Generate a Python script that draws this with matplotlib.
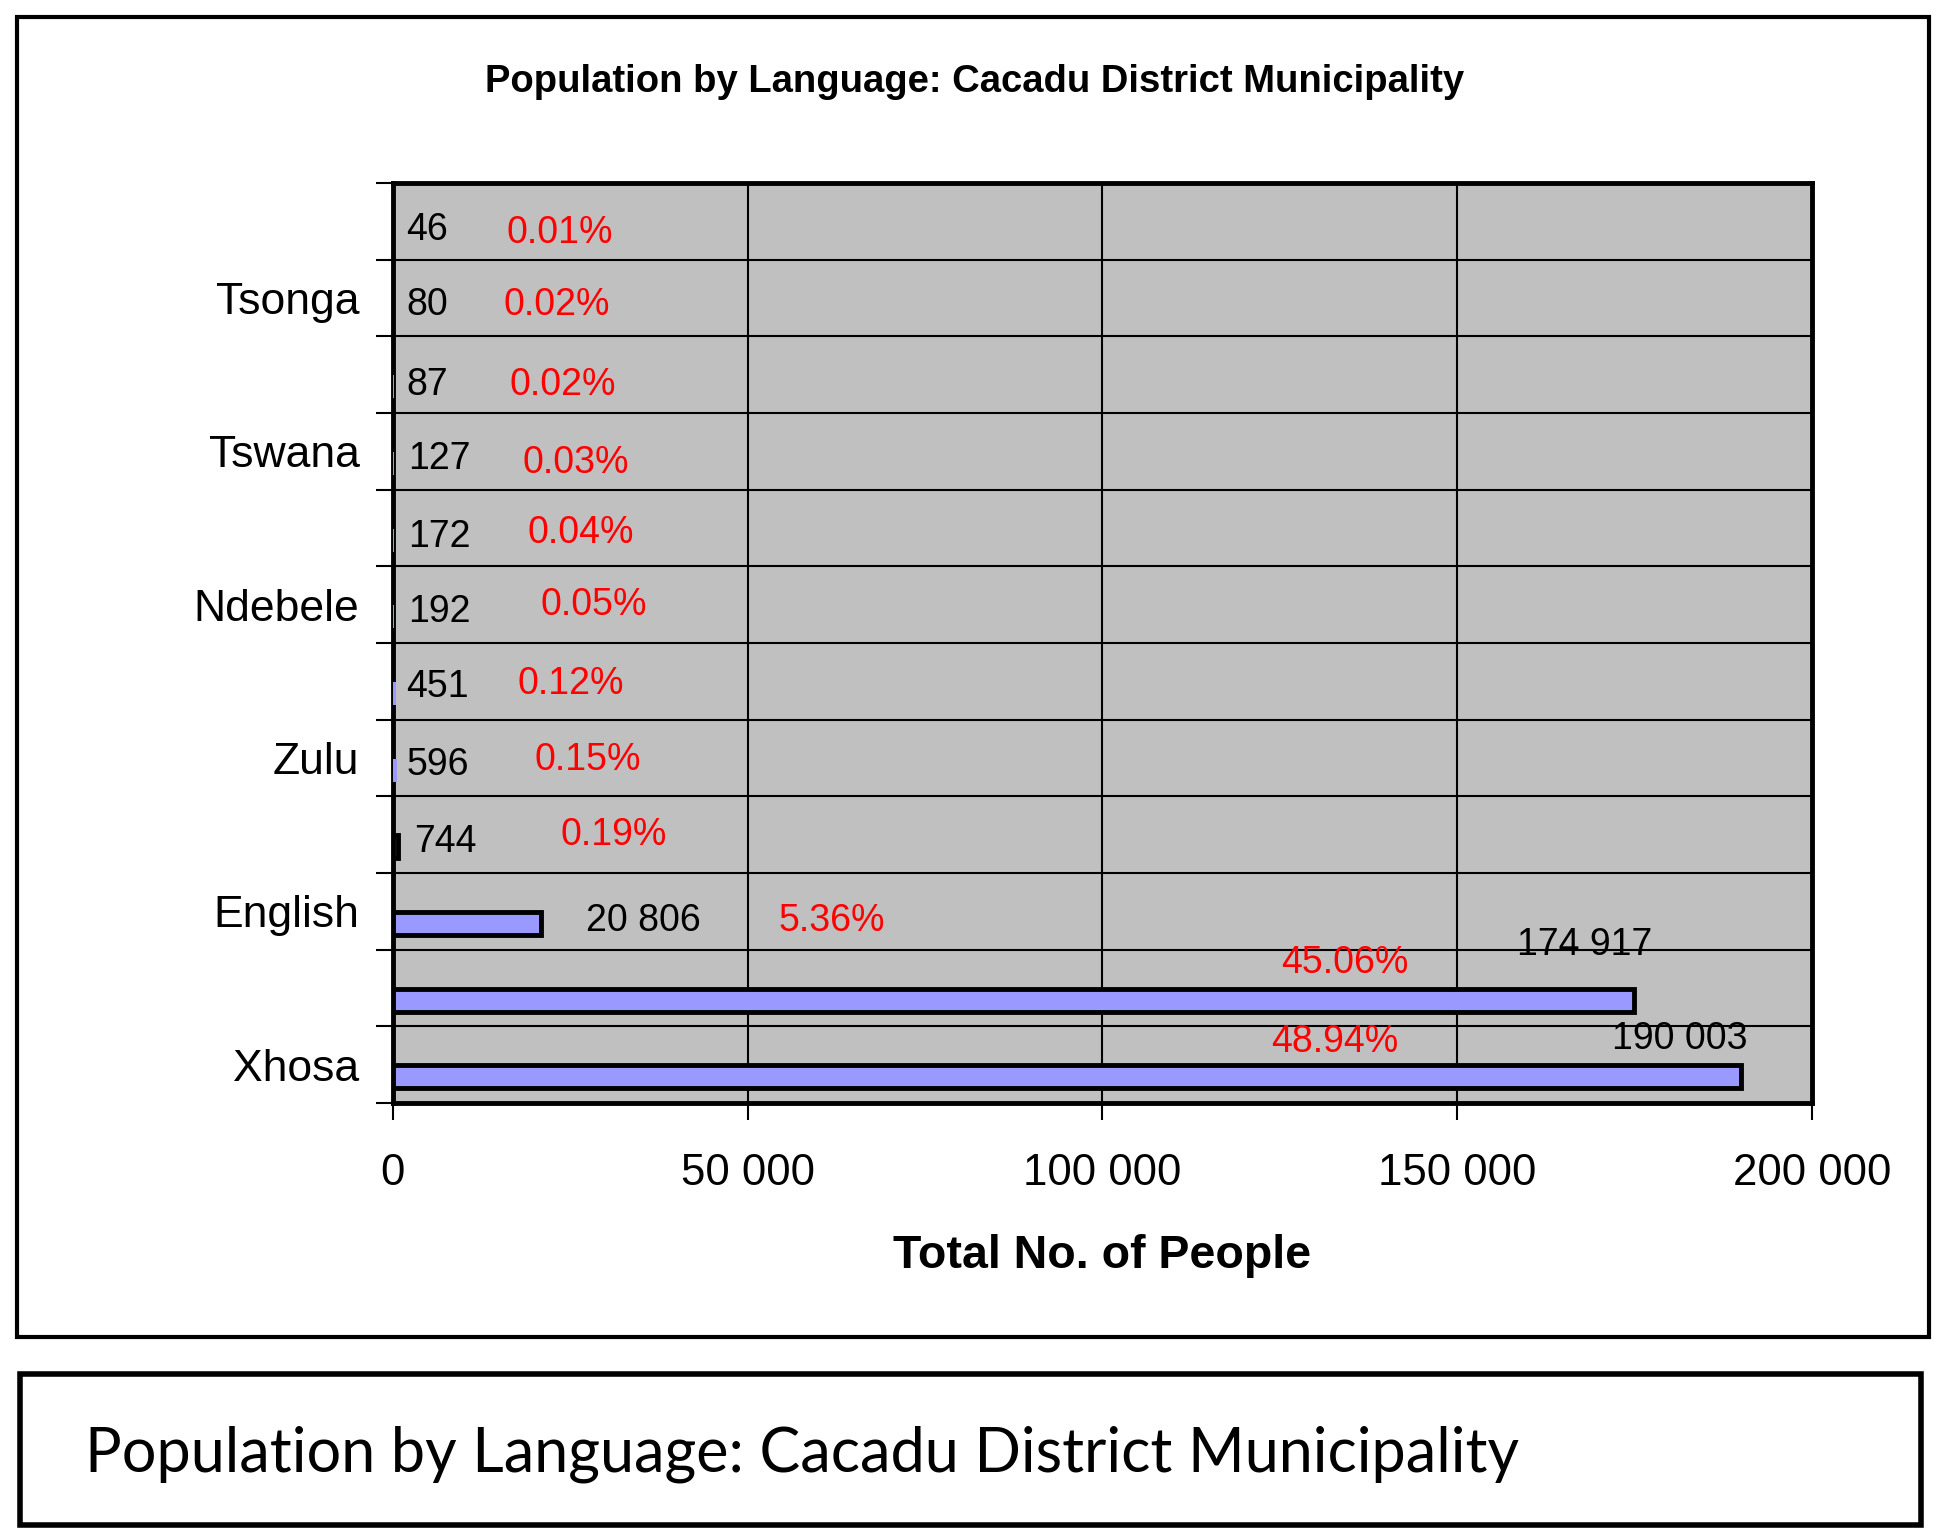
import matplotlib.pyplot as plt
import matplotlib.patches as mpatches
import numpy as np

# data, top to bottom as drawn (Xhosa at the bottom)
languages = ['', 'Tsonga', '', 'Tswana', '', 'Ndebele', '', 'Zulu', '', 'English', '', 'Xhosa']
people = [46, 80, 87, 127, 172, 192, 451, 596, 744, 20806, 174917, 190003]
percent = ['0.01%', '0.02%', '0.02%', '0.03%', '0.04%', '0.05%',
           '0.12%', '0.15%', '0.19%', '5.36%', '45.06%', '48.94%']
xticks = [0, 50000, 100000, 150000, 200000]
xtick_labels = ['0', '50 000', '100 000', '150 000', '200 000']

# hand-placed label positions (as in the original chart)
num_x = [1930, 1930, 1930, 2100, 2100, 2100, 1930, 1930, 2980, 27170, 158470, 171800]
num_dy = [-0.12, -0.09, -0.13, -0.10, -0.12, -0.10, -0.07, -0.09, -0.09, -0.12, 0.56, 0.34]
pct_x = [15950, 15600, 16480, 18230, 18930, 20860, 17530, 19980, 23670, 54340, 125160, 123760]
pct_dy = [-0.15, -0.09, -0.13, -0.15, -0.07, -0.01, -0.04, -0.02, 0.0, -0.12, 0.32, 0.29]

plt.rcParams['font.family'] = ['Liberation Sans', 'DejaVu Sans']

fig = plt.figure(figsize=(19.5, 15.32), dpi=100)
ax = fig.add_axes([0.2015, 0.2800, 0.7277, 0.6006])
ax.set_facecolor('#C0C0C0')

n = len(people)
ypos = np.arange(n)[::-1]  # first item at the top
# bars thinner than a pixel or two don't show in the original, so no outline for them
edges = ['black' if v > 700 else 'none' for v in people]
ax.barh(ypos - 0.16, people, height=0.30, color='#9999FF', edgecolor=edges,
        linewidth=3.5, zorder=3)

for i in range(n):
    ax.text(num_x[i], ypos[i] + num_dy[i], '{:,}'.format(people[i]).replace(',', ' '),
            fontsize=27, color='black', va='center', ha='left', zorder=4)
    ax.text(pct_x[i], ypos[i] + pct_dy[i], percent[i],
            fontsize=27, color='red', va='center', ha='left', zorder=4)

ax.set_xlim(0, 200000)
ax.set_ylim(-0.5, n - 0.5)
ax.set_xticks(xticks)
ax.set_xticklabels(xtick_labels, fontsize=31.5)
ax.tick_params(axis='x', length=12, width=1.5, pad=24)

# category names on every band, band edges as minor ticks with gridlines
ax.set_yticks(ypos)
ax.set_yticklabels(languages, fontsize=32)
ax.set_yticks(np.arange(n + 1) - 0.5, minor=True)
ax.tick_params(axis='y', which='major', length=0, pad=24)
ax.tick_params(axis='y', which='minor', length=12, width=1.5)
ax.grid(axis='y', which='minor', color='black', linewidth=1.5, zorder=1)
ax.grid(axis='x', which='major', color='black', linewidth=1.5, zorder=1)
for s in ax.spines.values():
    s.set_linewidth(3.5)

fig.text(0.5, 0.9467, 'Population by Language: Cacadu District Municipality',
         fontsize=27.5, fontweight='bold', ha='center', va='center')
fig.text(0.5654, 0.1803, 'Total No. of People', fontsize=33.5, fontweight='bold',
         ha='center', va='center')

# outer frames
fig.patches.append(mpatches.Rectangle((17 / 1950, 1 - 1337 / 1532), 1912 / 1950, 1320 / 1532,
                                      transform=fig.transFigure, fill=False,
                                      edgecolor='black', linewidth=3))
fig.patches.append(mpatches.Rectangle((20 / 1950, 1 - 1525 / 1532), 1901 / 1950, 151 / 1532,
                                      transform=fig.transFigure, fill=False,
                                      edgecolor='black', linewidth=4))
fig.text(0.0436, 0.0505, 'Population by Language: Cacadu District Municipality',
         fontsize=44, family=['Lato', 'DejaVu Sans'], ha='left', va='center')

fig.savefig('out.png', dpi=100)
